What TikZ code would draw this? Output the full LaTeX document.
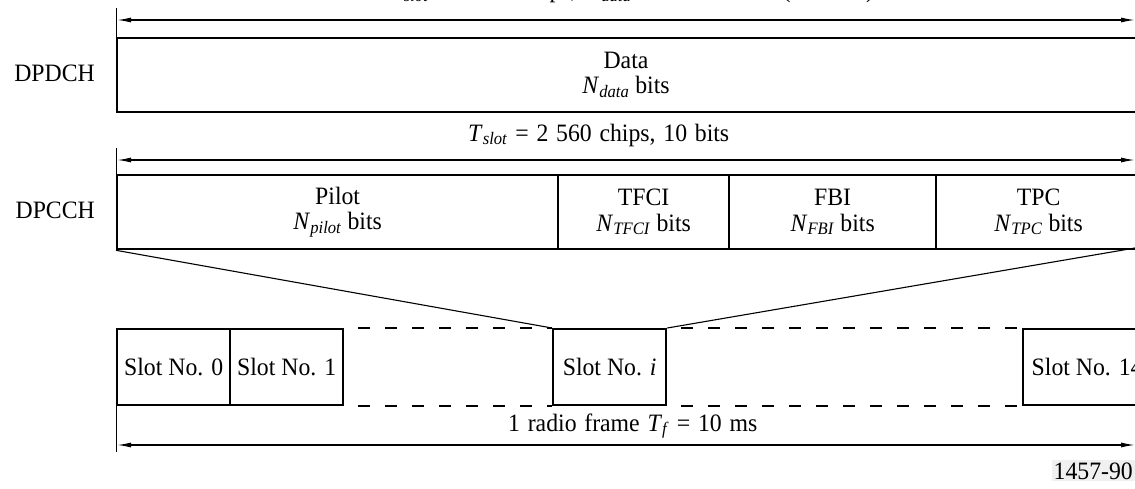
\documentclass[tikz,border=0pt]{standalone}
\usepackage{fontspec}
\setmainfont{Liberation Serif}[FakeStretch=0.95]
\usetikzlibrary{arrows.meta}
\newcommand\figfont{\fontsize{25}{25.5}\selectfont}
\newcommand\sub[1]{\textsubscript{\textit{#1}}}
\newcommand\widesp{\spaceskip=0.31em plus 0.1em\relax}
\begin{document}
\begin{tikzpicture}[x=1pt,y=-1pt,
  cell/.style={draw,line width=2.3pt,inner sep=0pt,anchor=north west,align=center,font=\figfont},
  lbl/.style={inner sep=0pt,font=\figfont,align=center},
  dim/.style={line width=1.3pt,{Latex[length=14pt,width=5pt]}-{Latex[length=14pt,width=5pt]}},
  tick/.style={line width=1pt},
  fan/.style={line width=1.1pt},
  gap/.style={line width=2.2pt,dash pattern=on 12pt off 15pt,dash phase=13pt}
]
\useasboundingbox (0,0) rectangle (1135,488);

% top dimension
\coordinate (t1a) at (116,8);
\coordinate (t1b) at (116,37);
\coordinate (a1l) at (117,20);
\coordinate (a1r) at (1135,20);
\draw[tick] (t1a) -- (t1b);
\draw[dim] (a1l) -- (a1r);
\node[lbl,anchor=base west] (toptext) at (389,-2.5) {\widesp\textit{T}\sub{slot} = 2 560 chips, \textit{N}\sub{data} = 10 × 2\textsuperscript{\textit{k}} bits (\textit{k} = 0..6)};

% DPDCH
\node[lbl,anchor=base east] (dpdchlbl) at (95,81) {DPDCH};
\node[cell,minimum width=1024pt,minimum height=74pt] (data) at (116,37) {};
\node[lbl] (datatext) at (626,75) {Data\\\textit{N}\sub{data} bits};

% second dimension
\node[lbl,anchor=base west] (slottext) at (468,141) {\widesp\textit{T}\sub{slot} = 2 560 chips, 10 bits};
\coordinate (t2a) at (116,148);
\coordinate (t2b) at (116,174);
\coordinate (a2l) at (117,160);
\coordinate (a2r) at (1135,160);
\draw[tick] (t2a) -- (t2b);
\draw[dim] (a2l) -- (a2r);

% DPCCH
\node[lbl,anchor=base east] (dpcchlbl) at (95,218) {DPCCH};
\node[cell,minimum width=441pt,minimum height=74pt] (pilot) at (116,174) {Pilot\\\textit{N}\sub{pilot} bits};
\node[cell,minimum width=171pt,minimum height=74pt] (tfci) at (557,174) {TFCI\\\textit{N}\sub{TFCI} bits};
\node[cell,minimum width=207pt,minimum height=74pt] (fbi) at (728,174) {FBI\\\textit{N}\sub{FBI} bits};
\node[cell,minimum width=205pt,minimum height=74pt] (tpc) at (935,174) {TPC\\\textit{N}\sub{TPC} bits};
\coordinate (tpcse) at (1135,248);

% slots
\node[cell,minimum width=113pt,minimum height=76pt] (s0) at (116,328) {Slot No. 0};
\node[cell,minimum width=113pt,minimum height=76pt] (s1) at (229,328) {Slot No. 1};
\node[cell,minimum width=113pt,minimum height=76pt] (si) at (552,328) {Slot No. \textit{i}};
\node[cell,minimum width=122pt,minimum height=76pt] (s14) at (1022,328) {\hspace{6pt}Slot No. 14};

\draw[gap] (s1.north east) -- (si.north west);
\draw[gap] (s1.south east) -- (si.south west);
\draw[gap] (si.north east) -- (s14.north west);
\draw[gap] (si.south east) -- (s14.south west);

% fan lines
\draw[fan] (pilot.south west) -- (si.north west);
\draw[fan] (tpcse) -- (si.north east);

% bottom dimension
\node[lbl,anchor=base west] (frametext) at (508,431) {\widesp 1 radio frame \textit{T}\sub{f} = 10 ms};
\coordinate (t3a) at (116,404);
\coordinate (t3b) at (116,452);
\coordinate (a3l) at (117,445);
\coordinate (a3r) at (1135,445);
\draw[tick] (t3a) -- (t3b);
\draw[dim] (a3l) -- (a3r);

\node[lbl,anchor=base east,fill=gray!12,inner sep=2pt] (fig) at (1135,479) {1457-90};
\end{tikzpicture}
\end{document}
